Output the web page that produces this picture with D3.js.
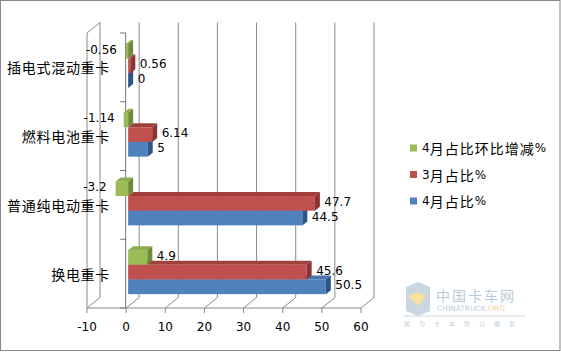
<!DOCTYPE html>
<html>
<head>
<meta charset="utf-8">
<script src="https://cdn.jsdelivr.net/npm/d3@7"></script>
<style>
  body { margin: 0; background: #fff; }
  text { font-family: "DejaVu Sans", "Noto Sans CJK SC", sans-serif; fill: #000; }
</style>
</head>
<body>
<div id="chart"></div>
<script>
// data, categories listed top to bottom as drawn
const categories = ["插电式混动重卡", "燃料电池重卡", "普通纯电动重卡", "换电重卡"]
const seriesNames = ["4月占比环比增减%", "3月占比%", "4月占比%"]
const changeApr = [-0.56, -1.14, -3.2, 4.9]
const shareMar = [0.56, 6.14, 47.7, 45.6]
const shareApr = [0, 5, 44.5, 50.5]
const xTicks = [-10, 0, 10, 20, 30, 40, 50, 60]

const colors = [
  {front: "#9BBB59", top: "#8DAD4E", side: "#6F8A3B"},
  {front: "#C0504D", top: "#A0403D", side: "#8B3431"},
  {front: "#4F81BD", top: "#4676B0", side: "#2F5487"}
]

const width = 561, height = 352
const depth = {dx: 13, dy: -10.5}      // full box depth
const barOff = {dx: 2, dy: -1.5}       // bar front plane offset
const barDepth = {dx: 5, dy: -4}
const front = {top: 33, bottom: 308}
const gridColor = "#8a8a8a"

const svg = d3.select("#chart").append("svg")
  .attr("width", width)
  .attr("height", height)

svg.append("rect")
  .attr("x", 0.5).attr("y", 0.5)
  .attr("width", width - 1.5).attr("height", height - 2)
  .attr("fill", "#fff").attr("stroke", "#888")

const x = d3.scaleLinear().domain([-10, 60]).range([87, 361])
const y = d3.scaleBand().domain(categories).range([front.top, front.bottom])
  .paddingInner(0.36).paddingOuter(0.18)
const ySub = d3.scaleBand().domain(d3.range(3)).range([0, y.bandwidth()])

// mixed font helper: CJK larger with spacing, latin in DejaVu
function mixedText(sel, str, cjkSize, latinSize, spacing) {
  const runs = str.match(/[\u4e00-\u9fff]+|[^\u4e00-\u9fff]+/g)
  runs.forEach(function(r) {
    const cjk = /[\u4e00-\u9fff]/.test(r)
    sel.append("tspan")
      .style("font-family", cjk ? "'Noto Sans CJK SC'" : "'DejaVu Sans'")
      .style("font-size", (cjk ? cjkSize : latinSize) + "px")
      .style("letter-spacing", cjk ? spacing + "px" : "0px")
      .text(r)
  })
}

// back wall gridlines + floor diagonals
const grid = svg.append("g").attr("stroke", gridColor).attr("fill", "none")
xTicks.forEach(function(v) {
  const fx = x(v)
  grid.append("line")
    .attr("x1", fx + depth.dx).attr("x2", fx + depth.dx)
    .attr("y1", front.top + depth.dy).attr("y2", front.bottom + depth.dy)
  grid.append("line")
    .attr("x1", fx).attr("y1", front.bottom)
    .attr("x2", fx + depth.dx).attr("y2", front.bottom + depth.dy)
  grid.append("line")
    .attr("x1", fx).attr("x2", fx)
    .attr("y1", front.bottom).attr("y2", front.bottom + 5)
})
// left wall
grid.append("line")
  .attr("x1", x(-10)).attr("x2", x(-10))
  .attr("y1", front.top).attr("y2", front.bottom)
grid.append("line")
  .attr("x1", x(-10)).attr("y1", front.top)
  .attr("x2", x(-10) + depth.dx).attr("y2", front.top + depth.dy)
// value axis line
grid.append("line")
  .attr("x1", x(-10)).attr("x2", x(60))
  .attr("y1", front.bottom).attr("y2", front.bottom)

// category axis at 0
const cax = svg.append("g").attr("stroke", "#777")
cax.append("line")
  .attr("x1", x(0) - 0.5).attr("x2", x(0) - 0.5)
  .attr("y1", front.top).attr("y2", front.bottom)
const bounds = [front.top].concat(categories.map(function(c) {
  return y(c) - y.step() * 0.18 + y.step()
}))
bounds.forEach(function(b) {
  cax.append("line")
    .attr("x1", x(0) - 6).attr("x2", x(0))
    .attr("y1", b).attr("y2", b)
})

// x tick labels
svg.append("g").selectAll("text")
  .data(xTicks).enter().append("text")
  .attr("x", function(d) { return x(d) })
  .attr("y", 327)
  .attr("text-anchor", "middle")
  .attr("dominant-baseline", "central")
  .style("font-size", "12px")
  .text(function(d) { return d })

// category labels
categories.forEach(function(c) {
  const t = svg.append("text")
    .attr("x", 110)
    .attr("y", y(c) + y.bandwidth() / 2)
    .attr("text-anchor", "end")
    .attr("dominant-baseline", "central")
  mixedText(t, c, 14, 12, 0.7)
})

// bars
const series = [changeApr, shareMar, shareApr]
const bars = svg.append("g")
categories.forEach(function(c, ci) {
  for (let s = 2; s >= 0; s--) {
    const v = series[s][ci]
    const col = colors[s]
    const xa = x(Math.min(0, v)) + barOff.dx
    const xb = x(Math.max(0, v)) + barOff.dx
    const y0 = y(c) + ySub(s) + barOff.dy
    const y1 = y0 + ySub.bandwidth()
    const dx = barDepth.dx, dy = barDepth.dy
    bars.append("rect")
      .attr("x", xa).attr("y", y0)
      .attr("width", Math.max(0, xb - xa)).attr("height", y1 - y0)
      .attr("fill", col.front)
    bars.append("path")
      .attr("d", "M" + xa + "," + y0 + "L" + xb + "," + y0 + "L" + (xb + dx) + "," + (y0 + dy) +
        "L" + (xa + dx) + "," + (y0 + dy) + "Z")
      .attr("fill", col.top)
    bars.append("path")
      .attr("d", "M" + xb + "," + y0 + "L" + (xb + dx) + "," + (y0 + dy) + "L" + (xb + dx) + "," + (y1 + dy) +
        "L" + xb + "," + y1 + "Z")
      .attr("fill", col.side)
    const lbl = bars.append("text")
      .attr("y", (y0 + y1) / 2 - 1.5)
      .attr("dominant-baseline", "central")
      .style("font-size", "12px")
      .text(v)
    if (v < 0) {
      lbl.attr("x", xa - 9).attr("text-anchor", "end")
    } else {
      lbl.attr("x", xb + dx + 4.5).attr("text-anchor", "start")
    }
  }
})

// legend
const legend = svg.append("g")
seriesNames.forEach(function(n, i) {
  const ly = 148 + i * 26.5
  legend.append("rect")
    .attr("x", 410).attr("y", ly - 3.5)
    .attr("width", 7).attr("height", 7)
    .attr("fill", colors[i].front)
  const t = legend.append("text")
    .attr("x", 422).attr("y", ly)
    .attr("dominant-baseline", "central")
  mixedText(t, n, 14, 12, 1)
})

// watermark
const wm = svg.append("g").attr("opacity", 0.55)
wm.append("path")
  .attr("d", "M406,287 L418,282 L430,287 L430,311 L418,316 L406,311 Z")
  .attr("fill", "#9fb8cc")
wm.append("path")
  .attr("d", "M408,296 L418,292 L426,296 L418,306 Z")
  .attr("fill", "#f2c94c")
wm.append("text")
  .attr("x", 436).attr("y", 295)
  .attr("dominant-baseline", "central")
  .style("font-family", "'Noto Sans CJK SC'")
  .style("font-size", "14px")
  .style("letter-spacing", "2px")
  .style("fill", "#7e9fbd")
  .text("中国卡车网")
const wt = wm.append("text")
  .attr("x", 437).attr("y", 308)
  .attr("dominant-baseline", "central")
  .style("font-size", "7.5px")
  .style("fill", "#8aa6c0")
wt.append("tspan").text("CHINATRUCK.")
wt.append("tspan").style("fill", "#f0a040").text("ORG")
wm.append("line")
  .attr("x1", 404).attr("x2", 525).attr("y1", 316).attr("y2", 316)
  .attr("stroke", "#9fb8cc")
wm.append("text")
  .attr("x", 404).attr("y", 323)
  .attr("dominant-baseline", "central")
  .style("font-family", "'Noto Sans CJK SC'")
  .style("font-size", "6px")
  .style("letter-spacing", "9px")
  .style("fill", "#8aa6c0")
  .text("因为卡车所以朋友")
</script>
</body>
</html>
